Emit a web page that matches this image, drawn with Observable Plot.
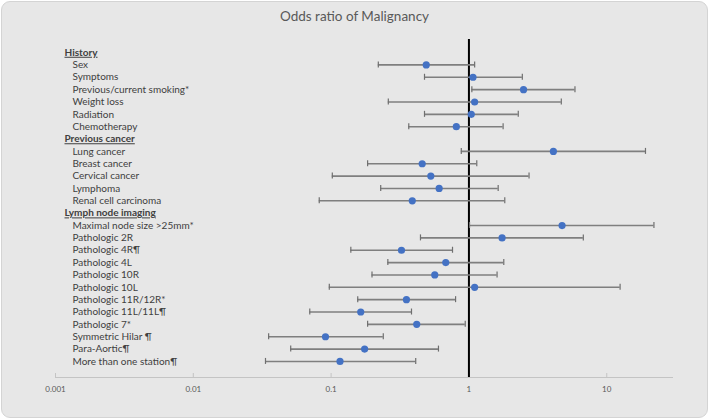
<!DOCTYPE html>
<html>
<head>
<meta charset="utf-8">
<script src="https://cdn.jsdelivr.net/npm/d3@7"></script>
<script src="https://cdn.jsdelivr.net/npm/@observablehq/plot@0.6"></script>
<style>
  html, body { margin: 0; padding: 0; background: #ffffff; }
  #wrap { position: relative; width: 709px; height: 419px; overflow: hidden; }
  #card { position: absolute; left: 1px; top: 1px; width: 705px; height: 415px;
          background: #e7e7e7; border: 1px solid #d4d4d4; border-radius: 9px; }
  #title { position: absolute; left: 0; top: 8px; width: 709px; text-align: center;
           font-family: Lato, "Open Sans", sans-serif; font-size: 13.5px; color: #595959; }
  #chart { position: absolute; left: 0; top: 0; }
</style>
</head>
<body>
<div id="wrap">
  <div id="card"></div>
  <div id="title">Odds ratio of Malignancy</div>
  <div id="chart"></div>
</div>
<script>
const labels = [
  "History", "Sex", "Symptoms", "Previous/current smoking*", "Weight loss", "Radiation", "Chemotherapy",
  "Previous cancer", "Lung cancer", "Breast cancer", "Cervical cancer", "Lymphoma", "Renal cell carcinoma",
  "Lymph node imaging", "Maximal node size >25mm*", "Pathologic 2R", "Pathologic 4R¶", "Pathologic 4L",
  "Pathologic 10R", "Pathologic 10L", "Pathologic 11R/12R*", "Pathologic 11L/11L¶", "Pathologic 7*",
  "Symmetric Hilar ¶", "Para-Aortic¶", "More than one station¶"
];
const headers = ["History", "Previous cancer", "Lymph node imaging"];
const oddsRatio = [null, 0.49, 1.07, 2.49, 1.10, 1.04, 0.81,
  null, 4.1, 0.458, 0.529, 0.608, 0.388,
  null, 4.74, 1.74, 0.324, 0.679, 0.565, 1.10, 0.352, 0.164, 0.418, 0.091, 0.175, 0.116];
const lowerCI = [null, 0.22, 0.476, 1.05, 0.26, 0.476, 0.366,
  null, 0.88, 0.184, 0.102, 0.229, 0.082,
  null, 1.01, 0.445, 0.139, 0.258, 0.198, 0.097, 0.156, 0.070, 0.184, 0.0352, 0.0509, 0.0334];
const upperCI = [null, 1.10, 2.44, 5.88, 4.68, 2.28, 1.77,
  null, 19.1, 1.14, 2.73, 1.63, 1.82,
  null, 22.0, 6.76, 0.76, 1.79, 1.60, 12.5, 0.80, 0.383, 0.94, 0.239, 0.601, 0.411];
const xTicks = [0.001, 0.01, 0.1, 1, 10];

const rows = labels.map((label, i) => ({
  label, header: headers.includes(label), or: oddsRatio[i], lo: lowerCI[i], hi: upperCI[i]
}));
const est = rows.filter(d => d.or != null);
const frameH = 419 - 36 - 42;

const chart = Plot.plot({
  width: 709,
  height: 419,
  marginLeft: 55,
  marginRight: 37,
  marginTop: 36,
  marginBottom: 42,
  style: { background: "transparent", fontFamily: "Lato, 'Open Sans', sans-serif" },
  x: { type: "log", domain: [0.001, 30] },
  y: { type: "point", domain: labels, padding: 1.3, round: false, axis: null },
  marks: [
    Plot.frame({ anchor: "bottom", stroke: "#c4c4c4", strokeWidth: 1 }),
    Plot.ruleX(xTicks, { stroke: "#c4c4c4", insetTop: frameH - 4 }),
    Plot.axisX({ ticks: xTicks, tickSize: 0, tickPadding: 9, tickFormat: d => String(d),
                 fontSize: 8, fill: "#595959", label: null }),
    Plot.ruleX([1], { stroke: "#000000", strokeWidth: 2, insetTop: 3 }),
    Plot.ruleY(est, { x1: "lo", x2: "hi", y: "label", stroke: "#7f7f7f", strokeWidth: 1.6 }),
    Plot.ruleX(est, { x: "lo", y1: "label", y2: "label", insetTop: -3, insetBottom: -3, stroke: "#6f6f6f", strokeWidth: 1.2 }),
    Plot.ruleX(est, { x: "hi", y1: "label", y2: "label", insetTop: -3, insetBottom: -3, stroke: "#6f6f6f", strokeWidth: 1.2 }),
    Plot.dot(est, { x: "or", y: "label", r: 3.6, fill: "#4472c4", stroke: null }),
    Plot.text(rows.filter(d => !d.header), { y: "label", text: "label", frameAnchor: "left", dx: 17,
      textAnchor: "start", fontSize: 10, fill: "#404040" }),
    Plot.text(rows.filter(d => d.header), { y: "label", text: "label", frameAnchor: "left", dx: 9,
      textAnchor: "start", fontSize: 10, fontWeight: "bold", fill: "#404040" })
  ]
});

d3.select(chart).selectAll("text")
  .filter(function () { return headers.includes(this.textContent); })
  .style("text-decoration", "underline");

document.getElementById("chart").appendChild(chart);
</script>
</body>
</html>
